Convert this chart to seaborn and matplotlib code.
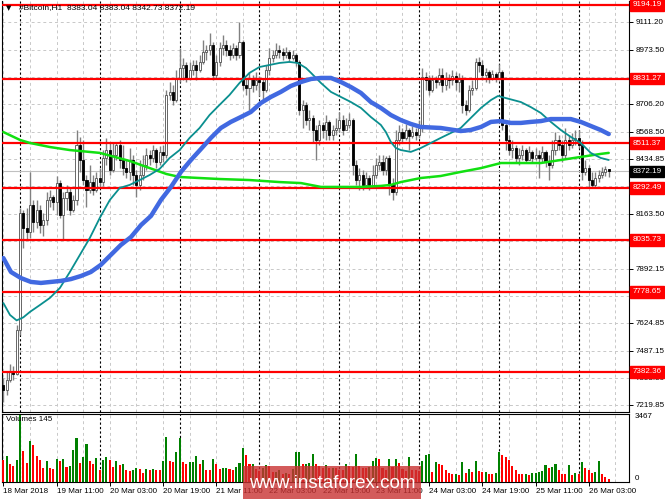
import numpy as np
import pandas as pd
import matplotlib
matplotlib.use("Agg")
import matplotlib.pyplot as plt
import seaborn as sns
from matplotlib.patches import Rectangle

sns.set_theme(style="white")
plt.rcParams["font.family"] = ["Liberation Sans", "DejaVu Sans"]

# ---------------- data ----------------
open_first = 7320
close = [7293, 7343, 7382, 7373, 7590, 8167, 8093, 8074, 8207, 8123,
         8182, 8108, 8133, 8231, 8246, 8221, 8315, 8157, 8241, 8271,
         8182, 8231, 8503, 8429, 8330, 8281, 8320, 8281, 8340, 8320,
         8439, 8478, 8380, 8454, 8503, 8429, 8389, 8370, 8429, 8355,
         8306, 8355, 8404, 8454, 8439, 8478, 8419, 8469, 8454, 8750,
         8765, 8725, 8834, 8883, 8898, 8834, 8873, 8898, 8873, 8913,
         8962, 8972, 8997, 8849, 8913, 8982, 8997, 8972, 8947, 8982,
         8947, 9011, 8799, 8785, 8834, 8799, 8824, 8814, 8775, 8873,
         8933, 8947, 8972, 8962, 8947, 8962, 8933, 8947, 8913, 8676,
         8701, 8626, 8636, 8577, 8528, 8602, 8577, 8617, 8552, 8577,
         8587, 8626, 8577, 8602, 8626, 8404, 8330, 8355, 8306, 8340,
         8306, 8355, 8404, 8419, 8380, 8439, 8306, 8271, 8528, 8567,
         8538, 8577, 8547, 8567, 8552, 8587, 8839, 8824, 8775, 8824,
         8814, 8849, 8799, 8834, 8824, 8844, 8814, 8834, 8701, 8676,
         8775, 8785, 8913, 8898, 8849, 8863, 8834, 8854, 8834, 8863,
         8602, 8528, 8478, 8488, 8439, 8454, 8478, 8429, 8469, 8439,
         8454, 8439, 8469, 8419, 8404, 8478, 8528, 8503, 8454, 8528,
         8503, 8528, 8538, 8503, 8370, 8389, 8330, 8306, 8340, 8355,
         8370, 8383.04, 8372.19]
high = [7353, 7382, 7422, 7412, 7614, 8192, 8182, 8192, 8370, 8231,
        8231, 8207, 8167, 8271, 8281, 8256, 8350, 8330, 8271, 8306,
        8291, 8256, 8577, 8543, 8528, 8355, 8404, 8355, 8370, 8389,
        8478, 8538, 8518, 8513, 8518, 8528, 8503, 8429, 8488, 8454,
        8380, 8429, 8454, 8488, 8478, 8503, 8488, 8498, 8503, 8775,
        8814, 8799, 8873, 8982, 8933, 8913, 8913, 8923, 8923, 8947,
        9021, 8997, 9056, 9011, 8947, 9011, 9046, 9021, 8997, 9006,
        8997, 9110, 9021, 8834, 8863, 8849, 8863, 8844, 8834, 8898,
        8982, 8972, 9006, 8997, 8982, 8987, 8972, 8972, 8957, 8923,
        8725, 8715, 8676, 8651, 8602, 8626, 8617, 8651, 8626, 8602,
        8636, 8666, 8651, 8636, 8661, 8636, 8429, 8389, 8380, 8370,
        8355, 8404, 8439, 8454, 8454, 8449, 8454, 8340, 8577, 8602,
        8587, 8607, 8587, 8597, 8587, 8626, 8883, 8863, 8849, 8849,
        8844, 8883, 8883, 8863, 8854, 8873, 8863, 8859, 8849, 8725,
        8799, 8824, 8933, 8937, 8923, 8883, 8873, 8873, 8863, 8903,
        8873, 8617, 8552, 8528, 8503, 8488, 8503, 8488, 8498, 8478,
        8488, 8478, 8498, 8478, 8454, 8528, 8567, 8552, 8528, 8587,
        8552, 8562, 8577, 8577, 8528, 8429, 8404, 8370, 8370, 8380,
        8394, 8399, 8383.04]
low = [7234, 7269, 7333, 7343, 7368, 7565, 7995, 8034, 8044, 8074,
       8093, 8069, 8054, 8108, 8197, 8182, 8157, 8143, 8034, 8182,
       8157, 8172, 8207, 8370, 8306, 8197, 8266, 8256, 8271, 8291,
       8301, 8404, 8355, 8370, 8429, 8389, 8355, 8340, 8330, 8306,
       8246, 8281, 8330, 8380, 8404, 8419, 8389, 8404, 8419, 8439,
       8725, 8701, 8715, 8814, 8824, 8814, 8824, 8849, 8824, 8863,
       8903, 8923, 8947, 8824, 8834, 8893, 8947, 8942, 8923, 8933,
       8923, 8933, 8775, 8750, 8676, 8765, 8775, 8745, 8725, 8765,
       8849, 8913, 8933, 8933, 8923, 8933, 8913, 8923, 8893, 8651,
       8587, 8602, 8577, 8518, 8429, 8503, 8538, 8528, 8528, 8528,
       8552, 8567, 8552, 8577, 8587, 8355, 8306, 8281, 8281, 8291,
       8281, 8296, 8340, 8380, 8355, 8355, 8256, 8231, 8256, 8503,
       8518, 8528, 8478, 8538, 8528, 8538, 8567, 8775, 8750, 8765,
       8785, 8799, 8765, 8775, 8785, 8799, 8775, 8765, 8661, 8651,
       8666, 8750, 8775, 8863, 8824, 8814, 8809, 8824, 8814, 8824,
       8577, 8478, 8454, 8439, 8419, 8404, 8429, 8414, 8439, 8419,
       8429, 8340, 8419, 8394, 8330, 8389, 8454, 8478, 8419, 8439,
       8478, 8488, 8503, 8488, 8330, 8355, 8296, 8291, 8296, 8320,
       8340, 8350, 8342.73]
volume = [1127, 1334, 953, 815, 1127, 3467, 1612, 1005, 2114, 1906,
          1352, 1161, 745, 1092, 745, 659, 1178, 1092, 1178, 780,
          815, 1646, 2253, 1005, 1300, 1958, 1092, 953, 1265, 607,
          1161, 1300, 1127, 780, 1092, 867, 918, 641, 572, 607,
          745, 693, 485, 693, 641, 693, 641, 607, 1092, 2305,
          1092, 1040, 1560, 2253, 1040, 953, 1040, 1040, 1334, 953,
          1161, 641, 607, 1213, 953, 693, 745, 745, 693, 641,
          780, 1005, 1785, 1386, 918, 918, 693, 572, 745, 867,
          815, 520, 520, 641, 433, 468, 433, 693, 1560, 1560,
          953, 953, 1005, 1473, 918, 815, 745, 867, 745, 745,
          711, 641, 607, 918, 815, 780, 1473, 815, 745, 711,
          780, 1092, 1265, 1213, 745, 641, 1178, 780, 1213, 988,
          693, 572, 1300, 641, 607, 572, 1100, 1386, 1473, 520,
          1040, 953, 867, 607, 468, 399, 433, 347, 1040, 485,
          693, 520, 1092, 572, 520, 520, 433, 399, 468, 1560,
          1386, 1300, 1161, 815, 641, 433, 399, 433, 347, 468,
          468, 537, 572, 867, 745, 780, 953, 641, 433, 399,
          884, 347, 485, 399, 1040, 745, 607, 468, 520, 1092,
          399, 260, 145]

# moving averages (bar index, price)
teal_bar = [0, 2, 4, 6, 8, 11, 14, 17, 20, 23, 26, 29, 32, 35, 38, 41, 44, 47, 50, 53,
            56, 59, 62, 65, 68, 71, 74, 77, 80, 83, 86, 88.5, 91, 92.5, 95.5, 98.5,
            101.5, 104.5, 107.5, 110.5, 113.5, 115, 116.5, 118, 119.5, 122.5, 125.5,
            128.5, 131.5, 134.5, 137.5, 140.5, 143.6, 146.6, 148.7, 151, 155.6, 158.6,
            161.6, 164.6, 167.6, 170.6, 173.6, 176.6, 179.6, 182]
teal_val = [7723, 7664, 7637, 7652, 7679, 7713, 7748, 7797, 7876, 7960, 8044, 8143, 8231,
            8291, 8306, 8330, 8355, 8385, 8439, 8478, 8538, 8587, 8651, 8701, 8750, 8809,
            8859, 8888, 8898, 8908, 8913, 8908, 8883, 8859, 8809, 8765, 8740, 8715, 8686,
            8641, 8602, 8567, 8518, 8488, 8478, 8469, 8488, 8513, 8538, 8562, 8587, 8636,
            8686, 8725, 8745, 8735, 8715, 8690, 8661, 8617, 8577, 8543, 8513, 8464, 8439,
            8429]
blue_bar = [0, 2.3, 5.3, 8.3, 11.3, 14.3, 17.3, 20.3, 23.3, 26.3, 29.3, 32.3, 35.3, 38.4,
            41.4, 44.4, 47.4, 50.4, 53.4, 56.4, 59.4, 62.4, 65.4, 68.4, 71.4, 74.4, 77.4,
            80.4, 83.4, 86.4, 89.5, 92.5, 95.5, 98.5, 101.5, 104.5, 107.5, 110.5, 113.5,
            116.5, 119.5, 122.5, 125.5, 131.5, 137.5, 140.5, 143.6, 146.6, 149.6, 152.6,
            155.6, 158.6, 161.6, 164.6, 170.6, 173.6, 176.6, 179.6, 182]
blue_val = [7945, 7876, 7846, 7827, 7822, 7827, 7832, 7841, 7856, 7876, 7911, 7960, 8009,
            8049, 8108, 8153, 8232, 8296, 8370, 8429, 8483, 8538, 8587, 8617, 8641, 8666,
            8710, 8740, 8765, 8794, 8814, 8829, 8834, 8834, 8814, 8789, 8760, 8715, 8686,
            8651, 8626, 8607, 8592, 8587, 8572, 8577, 8592, 8617, 8621, 8612, 8612, 8617,
            8621, 8631, 8631, 8617, 8597, 8577, 8557]
green_bar = [0, 5, 8, 14, 20, 29, 38, 44, 49, 53, 59, 65, 74, 83, 89.5, 95.5, 101.5, 107.5,
             113.5, 116.5, 119.5, 125.5, 131.5, 137.5, 143.6, 149.6, 161.6, 167.6, 173.6,
             179.6, 182]
green_val = [8567, 8528, 8513, 8493, 8478, 8464, 8424, 8389, 8360, 8345, 8340, 8335, 8330,
             8320, 8315, 8296, 8296, 8296, 8301, 8306, 8320, 8340, 8350, 8370, 8389, 8414,
             8414, 8429, 8444, 8459, 8464]

levels = [9194.19, 8831.27, 8511.37, 8292.49, 8035.73, 7778.65, 7382.36]
last_price = 8372.19
price_ticks = [9111.20, 8973.50, 8838.85, 8706.20, 8568.50, 8434.85, 8299.15, 8163.50,
               8027.80, 7892.15, 7758.50, 7624.85, 7487.15, 7353.50, 7219.85]
hidden_ticks = [8838.85, 8299.15, 8027.80]
time_labels = ["18 Mar 2018", "19 Mar 11:00", "20 Mar 03:00", "20 Mar 19:00",
               "21 Mar 11:00", "22 Mar 03:00", "22 Mar 19:00", "23 Mar 11:00",
               "24 Mar 03:00", "24 Mar 19:00", "25 Mar 11:00", "26 Mar 03:00"]
label_bars = [0, 16, 32, 48, 64, 80, 96, 112, 128, 144, 160, 176]
day_start_bars = [5, 29, 53, 77, 101, 125, 149, 173]
vol_max = 3467
title = "#Bitcoin,H1  8383.04 8383.04 8342.73 8372.19"

# ---------------- figure ----------------
W, H = 665, 499
fig = plt.figure(figsize=(W / 100, H / 100), dpi=100)
fig.patch.set_facecolor("white")
ax = fig.add_axes([2 / W, 1 - 412 / H, 627 / W, 411 / H])
vax = fig.add_axes([2 / W, 1 - 482 / H, 627 / W, 68 / H])

n = len(close)
idx = np.arange(n)
c = np.array(close, dtype=float)
o = np.concatenate([[open_first], c[:-1]])
hi = np.array(high, dtype=float)
lo = np.array(low, dtype=float)
up = c >= o

xlim = (-0.4, 188.1)
fs = 5.8

# grid
for t in price_ticks:
    ax.axhline(t, color="#c8c8c8", lw=0.7, ls=(0, (3, 3)), zorder=1)
for b in range(0, 190, 8):
    for a in (ax, vax):
        a.axvline(b, color="#c8c8c8", lw=0.7, ls=(0, (3, 3)), zorder=1)
for b in day_start_bars:
    for a in (ax, vax):
        a.axvline(b, color="black", lw=0.8, ls=(0, (2, 2)), zorder=1.5)

ax.axhline(last_price, color="#c0c0c0", lw=0.8, zorder=2)

# candles
ax.vlines(idx, lo, hi, color="#808080", lw=1.0, zorder=3)
body = np.abs(c - o)
body = np.where(body < 4, 4, body)
ax.bar(idx[up], body[up], bottom=o[up], width=0.62, color="white",
       edgecolor="#505050", lw=0.6, zorder=4)
ax.bar(idx[~up], body[~up], bottom=c[~up], width=0.62, color="black",
       edgecolor="black", lw=0.6, zorder=4)

# levels
for lv in levels:
    ax.axhline(lv, color="#ff0000", lw=1.6, zorder=5)

# moving averages
sns.lineplot(x=green_bar, y=green_val, ax=ax, color="#11e011", lw=1.8, zorder=6)
sns.lineplot(x=teal_bar, y=teal_val, ax=ax, color="#0a8f8f", lw=1.3, zorder=6)
sns.lineplot(x=blue_bar, y=blue_val, ax=ax, color="#4169e1", lw=3.2, zorder=7)

ax.set_xlim(*xlim)
ax.set_ylim(7184.8, 9213.9)
ax.yaxis.tick_right()
ax.set_yticks(price_ticks)
ax.set_yticklabels(["" if t in hidden_ticks else f"{t:.2f}" for t in price_ticks])
ax.tick_params(axis="y", length=3, width=0.7, color="black", labelsize=fs, pad=2,
               labelcolor="black", right=True)
ax.set_xticks([])
ax.set_xlabel("")
ax.set_ylabel("")
for s in ax.spines.values():
    s.set_color("black")
    s.set_linewidth(0.8)
ax.spines["top"].set_visible(False)

ytr = ax.get_yaxis_transform()
for lv in levels:
    ax.text(1.006, lv, f"{lv:.2f}", transform=ytr, ha="left", va="center", fontsize=fs,
            color="white", zorder=10, clip_on=False,
            bbox=dict(boxstyle="square,pad=0.3", fc="#ff0000", ec="#ff0000"))
ax.text(1.006, last_price, f"{last_price:.2f}", transform=ytr, ha="left", va="center",
        fontsize=fs, color="white", zorder=10, clip_on=False,
        bbox=dict(boxstyle="square,pad=0.3", fc="black", ec="black"))

# volumes
vol = np.array(volume, dtype=float)
prev = np.concatenate([[vol[0] + 1], vol[:-1]])
vcol = np.where(vol >= prev, "#008000", "#ff0000")
vax.bar(idx, vol, width=0.62, color=vcol, lw=0, zorder=3)
vax.set_xlim(*xlim)
vax.set_ylim(0, 3520)
vax.yaxis.tick_right()
vax.set_yticks([0, vol_max])
vax.set_yticklabels(["0", str(vol_max)])
vax.tick_params(axis="y", length=0, labelsize=fs, pad=4, labelcolor="black")
vax.get_yticklabels()[0].set_va("bottom")
vax.set_xticks(label_bars)
vax.set_xticklabels(time_labels, ha="left")
vax.tick_params(axis="x", length=3, width=0.7, color="black", labelsize=fs, pad=1.5,
                bottom=True, labelcolor="black")
vax.set_xlabel("")
vax.set_ylabel("")
for s in vax.spines.values():
    s.set_color("black")
    s.set_linewidth(0.8)
vax.text(0.006, 0.97, "Volumes 145", transform=vax.transAxes, ha="left", va="top",
         fontsize=fs, color="black", zorder=10)

# title
fig.text(6 / W, 1 - 8 / H, "\u25bc", fontsize=5, ha="left", va="center", color="black",
         family="DejaVu Sans")
fig.text(19 / W, 1 - 8 / H, title, fontsize=6, ha="left", va="center", color="black")

# watermark
fig.add_artist(Rectangle((243 / W, 0), 178 / W, 33 / H, transform=fig.transFigure,
                         fc="#c83232", ec="none", alpha=0.8, zorder=20))
fig.text(332 / W, 15 / H, "www.instaforex.com", ha="center", va="center",
         color="white", fontsize=13.5, zorder=21, family="Liberation Sans")

fig.savefig("out.png", dpi=100)
